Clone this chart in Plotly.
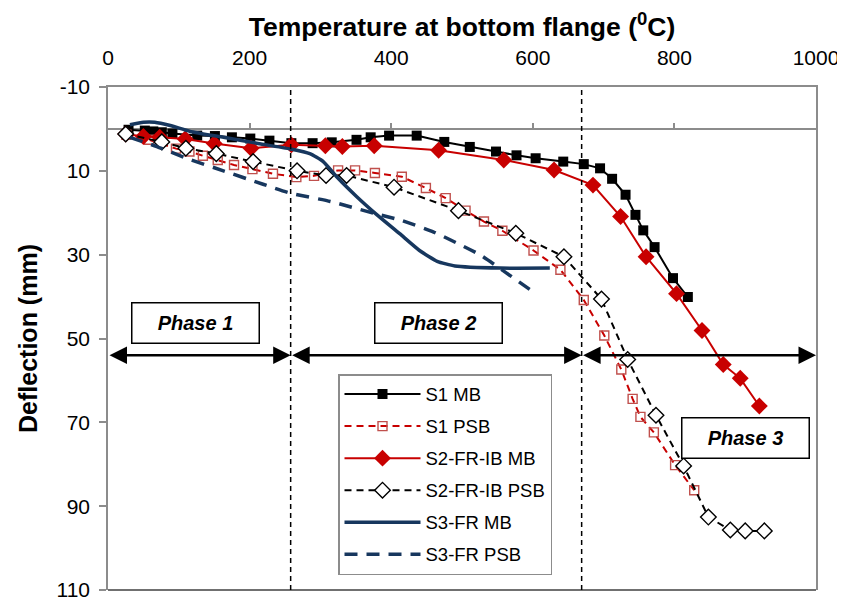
import plotly.graph_objects as go

# ---------------- data (temperature degC, deflection mm) ----------------
s1_mb_t = [29, 52, 64, 76, 91, 126, 151, 175, 201, 228, 259, 289, 316, 351, 371, 397, 436,
           475, 511, 548, 577, 604, 643, 672, 695, 712, 731, 745, 756, 772, 798, 819]
s1_mb_d = [0.2, 0.4, 0.6, 0.8, 1.1, 1.6, 1.7, 2.0, 2.3, 2.8, 3.4, 3.4, 3.2, 2.6, 2.0, 1.6, 1.6,
           3.1, 4.3, 5.4, 6.3, 7.0, 7.8, 8.4, 9.4, 11.9, 15.7, 20.5, 24.2, 28.2, 35.6, 40.1]

s1_psb_t = [26, 58, 96, 115, 134, 155, 178, 204, 233, 266, 291, 325, 349, 377, 415, 449, 477,
            505, 531, 557, 601, 639, 672, 701, 725, 741, 752, 771, 801, 828]
s1_psb_d = [1.4, 2.6, 4.7, 5.4, 6.4, 7.4, 8.6, 9.6, 10.7, 11.5, 11.2, 9.9, 9.9, 10.5, 11.4, 14.1,
            16.5, 19.5, 22.1, 24.3, 29.0, 33.6, 40.8, 49.3, 57.4, 64.4, 68.7, 72.4, 80.2, 86.2]

s2_mb_t = [25, 50, 73, 109, 150, 202, 259, 307, 331, 376, 467, 559, 630, 685, 724, 760, 803,
           839, 869, 893, 920]
s2_mb_d = [1.2, 1.8, 2.0, 2.4, 3.5, 4.6, 3.8, 4.0, 4.2, 4.0, 5.1, 7.4, 9.8, 13.4, 20.9, 30.5,
           39.3, 48.1, 56.2, 59.5, 66.1]

s2_psb_t = [25, 76, 110, 153, 205, 267, 308, 337, 404, 495, 576, 644, 697, 734, 774, 813, 848,
            879, 900, 927]
s2_psb_d = [1.2, 3.1, 4.6, 5.9, 7.8, 10.0, 11.1, 11.1, 13.9, 19.5, 24.9, 30.5, 40.6, 55.0, 68.3,
            80.4, 92.6, 95.7, 95.9, 95.9]

s3_mb_t = [31, 50, 66, 88, 116, 163, 210, 258, 285, 304, 323, 351, 380, 412, 440, 465, 490,
           554, 624]
s3_mb_d = [-1.0, -1.6, -1.6, -0.8, 0.6, 2.0, 3.4, 4.8, 5.9, 7.8, 11.4, 16.1, 20.5, 25.0, 29.0,
           31.6, 32.7, 33.2, 33.2]

s3_psb_t = [31, 69, 111, 163, 219, 257, 314, 375, 412, 460, 525, 563, 600]
s3_psb_d = [2.0, 4.2, 7.0, 10.0, 13.2, 15.3, 17.3, 20.1, 21.7, 24.6, 30.0, 34.4, 38.8]

series_names = ["S1 MB", "S1 PSB", "S2-FR-IB MB", "S2-FR-IB PSB", "S3-FR MB", "S3-FR PSB"]

phase_bounds = [0, 258, 669, 1000]          # degC, phase limits
phase_labels = ["Phase 1", "Phase 2", "Phase 3"]
phase_label_pos = [(124, 46.3), (467, 46.3), (901, 73.7)]  # (temp, deflection) of label boxes
arrow_level = 54                             # deflection level of the phase arrows

x_ticks = [0, 200, 400, 600, 800, 1000]
y_ticks = [-10, 10, 30, 50, 70, 90, 110]

# ---------------- styling ----------------
FONT = "Liberation Sans, Arial, sans-serif"
RED = "#C80000"
NAVY = "#17375E"
GRAY = "#8C8C8C"

fig = go.Figure()

fig.add_trace(go.Scatter(
    x=s1_mb_t, y=s1_mb_d, name=series_names[0], mode="lines+markers", legendgroup="a",
    line=dict(color="black", width=2),
    marker=dict(symbol="square", size=10, color="black")))
fig.add_trace(go.Scatter(
    x=s1_psb_t, y=s1_psb_d, name=series_names[1], mode="lines+markers", legendgroup="b",
    line=dict(color=RED, width=2, dash="7px,5px"),
    marker=dict(symbol="square-open", size=9, color="#C0504D", line=dict(width=1.4))))
fig.add_trace(go.Scatter(
    x=s2_mb_t, y=s2_mb_d, name=series_names[2], mode="lines+markers", legendgroup="c",
    line=dict(color=RED, width=2),
    marker=dict(symbol="diamond", size=13, color=RED)))
fig.add_trace(go.Scatter(
    x=s2_psb_t, y=s2_psb_d, name=series_names[3], mode="lines+markers", legendgroup="d",
    line=dict(color="black", width=2, dash="7px,5px"),
    marker=dict(symbol="diamond", size=12, color="white", line=dict(color="black", width=1.4))))
fig.add_trace(go.Scatter(
    x=s3_mb_t, y=s3_mb_d, name=series_names[4], mode="lines", legendgroup="e",
    line=dict(color=NAVY, width=3.5, shape="spline", smoothing=0.5)))
fig.add_trace(go.Scatter(
    x=s3_psb_t, y=s3_psb_d, name=series_names[5], mode="lines", legendgroup="f",
    line=dict(color=NAVY, width=3.5, dash="13px,9px", shape="spline", smoothing=0.5)))

# empty trace so the zero-line tick axis is drawn
fig.add_trace(go.Scatter(x=[], y=[], xaxis="x2", showlegend=False, hoverinfo="skip"))

y_min, y_max = y_ticks[0], y_ticks[-1]
zero_pos = (y_max - 0) / (y_max - y_min)

# the page body adds an 8 px margin, so the figure is sized to fit the window
W, H = 837, 598
L, R, T, B = 100, 29, 79, 16
plot_w, plot_h = W - L - R, H - T - B

fig.update_layout(
    width=W, height=H,
    margin=dict(l=L, r=R, t=T, b=B),
    paper_bgcolor="white", plot_bgcolor="white",
    font=dict(family=FONT, color="black"),
    showlegend=True,
    legend=dict(
        x=(330 - L) / plot_w, y=(T + plot_h - 366) / plot_h, xanchor="left", yanchor="top",
        bordercolor=GRAY, borderwidth=1.5, bgcolor="white",
        font=dict(family=FONT, size=18.5, color="black"),
        tracegroupgap=5, itemwidth=76,
    ),
    xaxis=dict(
        range=[x_ticks[0], x_ticks[-1]], side="top", tickvals=x_ticks,
        ticktext=[str(v) for v in x_ticks],
        showgrid=False, zeroline=False, showline=True, linecolor=GRAY, linewidth=1.5,
        ticks="", tickfont=dict(size=21), ticklabelstandoff=12,
        title=dict(text="Temperature at bottom flange (<sup>0</sup>C)",
                   font=dict(size=26.5, weight="bold"), standoff=8),
        automargin=False,
    ),
    xaxis2=dict(
        range=[x_ticks[0], x_ticks[-1]], overlaying="x", anchor="free", position=zero_pos,
        side="top", tickvals=x_ticks[1:-1], ticks="outside", ticklen=6, tickwidth=1.5,
        tickcolor=GRAY, showticklabels=False, showline=False, showgrid=False, zeroline=False,
    ),
    yaxis=dict(
        range=[y_max, y_min], tickvals=y_ticks, ticktext=[str(v) for v in y_ticks],
        showgrid=False,
        zeroline=True, zerolinecolor=GRAY, zerolinewidth=1.5,
        showline=True, linecolor=GRAY, linewidth=1.5, mirror=True,
        ticks="outside", ticklen=7, tickwidth=1.5, tickcolor=GRAY,
        tickfont=dict(size=21), ticklabelstandoff=5,
        title=dict(text="Deflection (mm)", font=dict(size=25, weight="bold"), standoff=12),
        automargin=False,
    ),
)

# bottom frame line
fig.add_shape(type="line", xref="x domain", yref="y domain", x0=0, x1=1, y0=0, y1=0,
              line=dict(color="#404040", width=1.5))

# phase boundary dashed verticals
for xb in phase_bounds[1:-1]:
    fig.add_shape(type="line", xref="x", yref="y domain", x0=xb, x1=xb, y0=0, y1=1,
                  line=dict(color="black", width=1.5, dash="5px,4px"))

# double-headed phase arrows
for a, b in zip(phase_bounds[:-1], phase_bounds[1:]):
    fig.add_annotation(x=b, y=arrow_level, ax=a, ay=arrow_level, xref="x", yref="y",
                       axref="x", ayref="y", text="", showarrow=True, arrowside="end+start",
                       arrowhead=2, arrowsize=1.4, arrowwidth=2.5, arrowcolor="black",
                       standoff=0, startstandoff=0)

# phase label boxes
for lab, (px, py) in zip(phase_labels, phase_label_pos):
    fig.add_annotation(x=px, y=py, xref="x", yref="y", text="<b><i>%s</i></b>" % lab,
                       showarrow=False, font=dict(family=FONT, size=20, color="black"),
                       bordercolor="black", borderwidth=1.5, bgcolor="white",
                       width=124, height=37, borderpad=1)

fig.write_html("out.html")
